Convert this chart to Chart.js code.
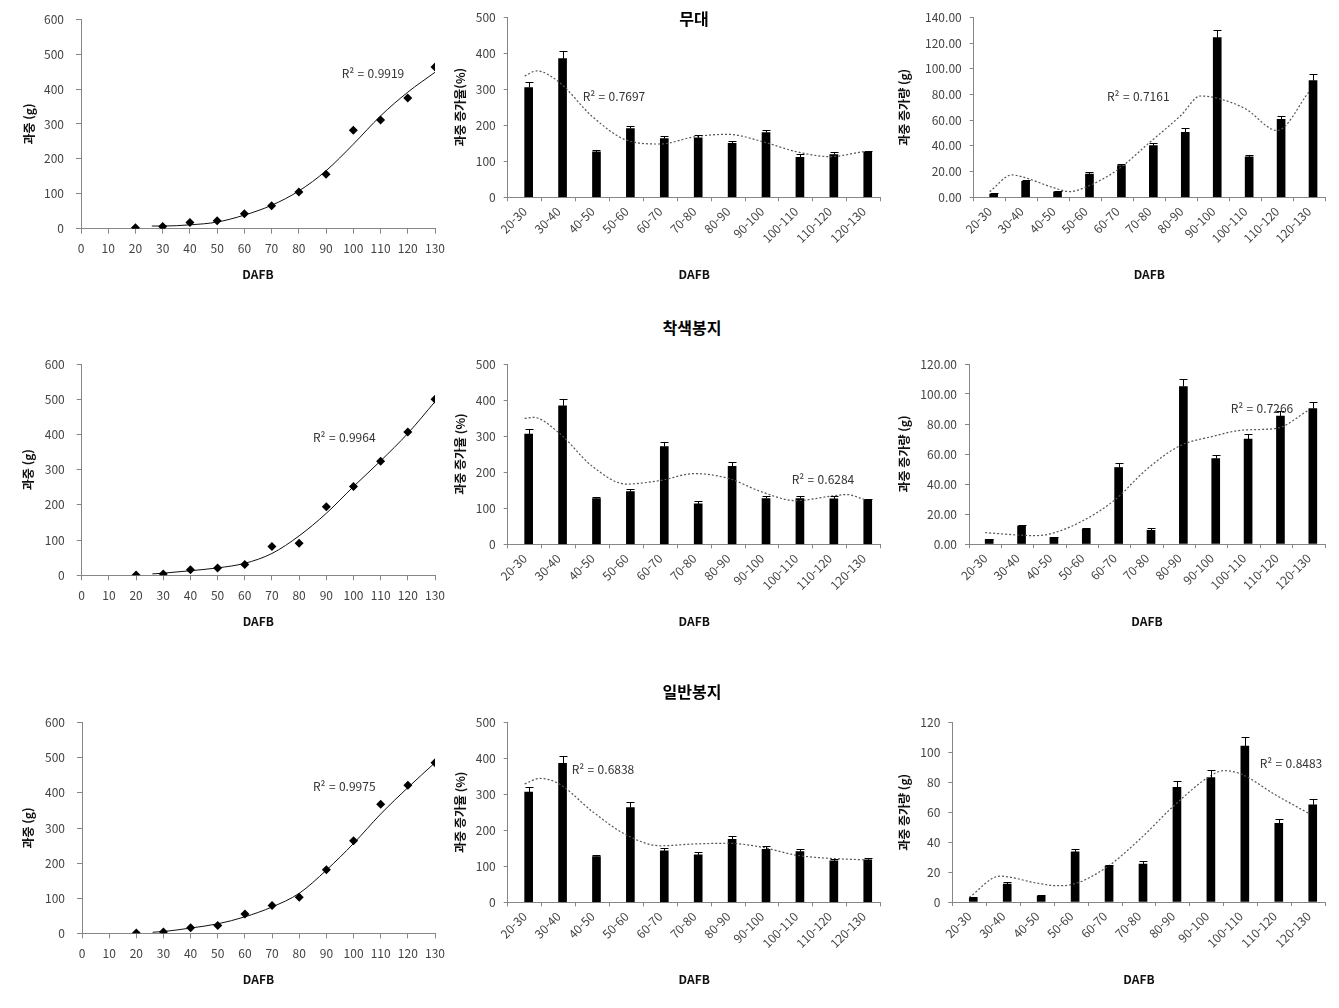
<!DOCTYPE html>
<html lang="ko">
<head>
<meta charset="utf-8">
<title>과중 변화</title>
<script src="https://cdn.jsdelivr.net/npm/chart.js@4.4.0/dist/chart.umd.min.js"></script>
<style>
  body { margin: 0; background: #fff; }
  #page { position: relative; width: 1339px; height: 1008px; font-family: "Noto Sans CJK KR", "Noto Sans", sans-serif; }
  #page canvas { position: absolute; }
  .ttl { position: absolute; font-weight: bold; font-size: 16px; color: #000; transform: translate(-50%, -50%); white-space: nowrap; }
  .r2 { position: absolute; font-size: 12px; color: #333; transform: translateY(-50%); white-space: nowrap; }
</style>
</head>
<body>
<div id="page"></div>
<script>
// ---- data ----
const days = [20, 30, 40, 50, 60, 70, 80, 90, 100, 110, 120, 130];
const periods = ['20-30', '30-40', '40-50', '50-60', '60-70', '70-80', '80-90', '90-100', '100-110', '110-120', '120-130'];

// fruit weight (g)
const weightMudae  = [3, 6, 18, 23, 43, 66, 105, 156, 282, 311, 374, 463];
const weightColor  = [1, 4, 16, 21, 31, 82, 91, 195, 252, 324, 407, 500];
const weightNormal = [1, 4, 16, 22, 55, 79, 103, 181, 264, 368, 422, 486];

// trend line of the weight plots
const fitDays   = [26, 30, 40, 50, 60, 70, 80, 90, 100, 110, 120, 130];
const fitMudae  = [7.6, 7.6, 11, 19, 39, 67, 108, 166, 242, 323, 391, 448];
const fitColor  = [4, 6, 13, 21, 34, 62, 112, 176, 252, 325, 403, 493];
const fitNormal = [3, 5, 15, 27, 47, 75, 114, 180, 256, 340, 415, 486];

// weight increase rate (%)
const rateMudae     = [305, 385, 126, 191, 163, 165, 150, 180, 111, 119, 125];
const rateMudaeErr  = [15, 20, 5, 7, 8, 9, 6, 8, 9, 8, 5];
const rateColor     = [306, 384, 127, 146, 271, 112, 216, 127, 127, 126, 123];
const rateColorErr  = [15, 19, 4, 7, 14, 7, 11, 7, 6, 7, 4];
const rateNormal    = [306, 386, 127, 263, 143, 132, 175, 147, 141, 115, 118];
const rateNormalErr = [15, 20, 4, 15, 8, 8, 9, 8, 7, 6, 4];

// weight increase (g)
const gainMudae     = [2.5, 12.5, 4.2, 18, 24.6, 40.2, 50.6, 124.2, 31.4, 60.7, 90.7];
const gainMudaeErr  = [0.5, 0.6, 0.4, 1.5, 1.3, 2, 3, 6, 1.8, 2.8, 5];
const gainColor     = [3.1, 12, 4.4, 10, 51, 9.1, 105, 57, 70, 85.3, 90.2];
const gainColorErr  = [0.4, 1, 0.4, 0.4, 3.3, 1.3, 5.3, 2.4, 3.1, 3.6, 4.7];
const gainNormal    = [2.7, 12, 4, 33.5, 24, 25.4, 76.7, 83.2, 104.4, 52.6, 65.1];
const gainNormalErr = [0.4, 1.2, 0.5, 2.2, 1, 1.8, 4.5, 4.9, 5.8, 2.9, 3.6];

// dotted trend lines (position in category units, value)
const trendRateMudaeAt  = [0, 0.35, 1, 2, 3, 4, 5, 6, 7, 8, 9, 10];
const trendRateMudae    = [337, 351, 321, 224, 159, 148, 168, 175, 155, 127, 113, 127];
const trendRateColorAt  = [0, 0.25, 1, 2, 3, 4, 5, 6, 7, 8, 9, 9.5, 10];
const trendRateColor    = [349, 352, 310, 216, 167, 177, 196, 183, 145, 121, 133, 138, 125];
const trendRateNormalAt = [0, 0.45, 1, 2, 3, 4, 5, 6, 7, 8, 9, 10];
const trendRateNormal   = [329, 344, 330, 252, 187, 157, 162, 164, 153, 131, 122, 118];
const trendGainMudaeAt  = [0, 0.7, 1, 2, 2.5, 3, 4, 5, 6, 6.6, 7, 8, 9, 10];
const trendGainMudae    = [4.4, 17.4, 16.1, 7.5, 4.4, 7.8, 21.3, 42.5, 64, 78.8, 77.8, 69, 52, 82];
const trendGainColorAt  = [0, 1, 1.5, 2, 3, 4, 5, 6, 7, 8, 9, 10];
const trendGainColor    = [7.6, 6, 5.6, 6.7, 15.3, 29.3, 50, 65.3, 71.6, 76, 77.1, 89.3];
const trendGainNormalAt = [0, 0.9, 2, 2.6, 3, 4, 5, 6, 7, 7.5, 8, 9, 10];
const trendGainNormal   = [3.1, 17.3, 12.6, 10.9, 11.6, 22.5, 41.5, 63.8, 82.8, 87.9, 85.7, 72, 59.3];

const r2Labels = ['R² = 0.9919', 'R² = 0.7697', 'R² = 0.7161',
                  'R² = 0.9964', 'R² = 0.6284', 'R² = 0.7266',
                  'R² = 0.9975', 'R² = 0.6838', 'R² = 0.8483'];
const groupTitles = ['무대', '착색봉지', '일반봉지'];

// ---- look ----
const FONT = '"Noto Sans CJK KR", "Noto Sans", sans-serif';
const AXIS = '#868686';
const TICK = '#444';
const tickFont = { family: FONT, size: 12 };
const titleFont = { family: FONT, size: 12, weight: 'bold' };
const LH = 14.4; // line height of the axis titles
const fix2 = v => v.toFixed(2);
const plain = v => v;

// canvas box [left, top, w, h], chart area [left, right, top, bottom]
const panels = [
  { kind: 'scatter', box: [8, 0, 445, 292], area: [81, 437, 17.3, 228.7], yTitleX: 29, xTitleY: 274,
    pts: weightMudae, fit: fitMudae, r2At: [341.7, 71.7] },
  { kind: 'bar', box: [445, 0, 445, 295], area: [507.7, 880.7, 17.3, 197.3], yTitleX: 460.7, xTitleY: 274,
    vals: rateMudae, errs: rateMudaeErr, tAt: trendRateMudaeAt, trend: trendRateMudae,
    yMax: 500, yStep: 100, fmt: plain, yTitle: '과중 증가율(%)', r2At: [582.7, 95] },
  { kind: 'bar', box: [890, 0, 449, 295], area: [973.7, 1325, 17.3, 197.3], yTitleX: 904, xTitleY: 274,
    vals: gainMudae, errs: gainMudaeErr, tAt: trendGainMudaeAt, trend: trendGainMudae,
    yMax: 140, yStep: 20, fmt: fix2, yTitle: '과중 증가량 (g)', r2At: [1107, 95] },

  { kind: 'scatter', box: [8, 340, 445, 300], area: [81.7, 439.3, 364, 575.3], yTitleX: 28.3, xTitleY: 621.7,
    pts: weightColor, fit: fitColor, r2At: [313, 435.7] },
  { kind: 'bar', box: [445, 340, 445, 300], area: [507.7, 880.7, 364, 544.3], yTitleX: 460.7, xTitleY: 621,
    vals: rateColor, errs: rateColorErr, tAt: trendRateColorAt, trend: trendRateColor,
    yMax: 500, yStep: 100, fmt: plain, yTitle: '과중 증가율 (%)', r2At: [791.7, 477.7] },
  { kind: 'bar', box: [890, 340, 449, 300], area: [969, 1325, 364, 544], yTitleX: 904, xTitleY: 621,
    vals: gainColor, errs: gainColorErr, tAt: trendGainColorAt, trend: trendGainColor,
    yMax: 120, yStep: 20, fmt: fix2, yTitle: '과중 증가량 (g)', r2At: [1230.7, 406.7] },

  { kind: 'scatter', box: [8, 700, 445, 300], area: [82, 439.3, 722.7, 933.3], yTitleX: 28.3, xTitleY: 979.3,
    pts: weightNormal, fit: fitNormal, r2At: [313, 785] },
  { kind: 'bar', box: [445, 700, 445, 300], area: [507.7, 880.7, 722.3, 902.3], yTitleX: 460.7, xTitleY: 979.3,
    vals: rateNormal, errs: rateNormalErr, tAt: trendRateNormalAt, trend: trendRateNormal,
    yMax: 500, yStep: 100, fmt: plain, yTitle: '과중 증가율 (%)', r2At: [571.7, 768.3] },
  { kind: 'bar', box: [890, 700, 449, 300], area: [952.3, 1325.7, 722.7, 902], yTitleX: 904, xTitleY: 979.3,
    vals: gainNormal, errs: gainNormalErr, tAt: trendGainNormalAt, trend: trendGainNormal,
    yMax: 120, yStep: 20, fmt: plain, yTitle: '과중 증가량 (g)', r2At: [1259.7, 762.3] }
];
const titleAt = [[694, 18], [692, 327], [692, 691]];

// error bars: vertical line plus a cap as wide as the bar
const errorBars = {
  id: 'errorBars',
  afterDatasetsDraw(chart) {
    const ctx = chart.ctx;
    chart.data.datasets.forEach((ds, i) => {
      if (!ds.errors) return;
      const meta = chart.getDatasetMeta(i);
      const y = chart.scales[meta.yAxisID];
      ctx.save();
      ctx.strokeStyle = '#000';
      ctx.lineWidth = 1;
      meta.data.forEach((bar, j) => {
        const top = Math.round(y.getPixelForValue(ds.data[j] + ds.errors[j])) + 0.5;
        const x = Math.round(bar.x) + 0.5;
        const half = bar.width / 2;
        ctx.beginPath();
        ctx.moveTo(x, bar.y);
        ctx.lineTo(x, top);
        ctx.moveTo(x - half, top);
        ctx.lineTo(x + half, top);
        ctx.stroke();
      });
      ctx.restore();
    });
  }
};

const page = document.getElementById('page');

function axisTitle(text) {
  return { display: true, text: text, font: titleFont, color: '#111', padding: 0 };
}

function makePanel(p, n) {
  const [bl, bt, bw, bh] = p.box;
  const [al, ar, at, ab] = p.area;
  const cv = document.createElement('canvas');
  cv.width = bw;
  cv.height = bh;
  cv.style.left = bl + 'px';
  cv.style.top = bt + 'px';
  page.appendChild(cv);

  const padL = p.yTitleX - LH / 2 - bl;
  const yW = al - (bl + padL);
  const xH = p.xTitleY + LH / 2 - ab;
  const layout = { padding: { left: padL, top: at - bt, right: bl + bw - ar, bottom: bt + bh - (p.xTitleY + LH / 2) } };
  const base = {
    responsive: false, animation: false, devicePixelRatio: 1, events: [],
    layout: layout,
    plugins: { legend: { display: false }, tooltip: { enabled: false } }
  };

  if (p.kind === 'scatter') {
    new Chart(cv, {
      type: 'scatter',
      data: {
        datasets: [
          { data: days.map((d, i) => ({ x: d, y: p.pts[i] })), pointStyle: 'rectRot', pointRadius: 4.5,
            backgroundColor: '#000', borderColor: '#000', borderWidth: 0, order: 0 },
          { type: 'line', data: fitDays.map((d, i) => ({ x: d, y: p.fit[i] })), borderColor: '#111',
            borderWidth: 1, pointRadius: 0, cubicInterpolationMode: 'monotone', fill: false, order: 1 }
        ]
      },
      options: Object.assign(base, {
        scales: {
          x: { type: 'linear', min: 0, max: 130,
               ticks: { stepSize: 10, font: tickFont, color: TICK, padding: 8 },
               grid: { drawOnChartArea: false, tickLength: 5, color: AXIS },
               border: { color: AXIS },
               title: axisTitle('DAFB'),
               afterFit: s => { s.height = xH; } },
          y: { min: 0, max: 600,
               ticks: { stepSize: 100, font: tickFont, color: TICK, padding: 12 },
               grid: { drawOnChartArea: false, tickLength: 5, color: AXIS },
               border: { color: AXIS },
               title: axisTitle('과중 (g)'),
               afterFit: s => { s.width = yW; } }
        }
      })
    });
  } else {
    new Chart(cv, {
      type: 'bar',
      data: {
        labels: periods,
        datasets: [
          { type: 'line', xAxisID: 'xt', data: p.tAt.map((t, i) => ({ x: t, y: p.trend[i] })),
            borderColor: '#555', borderWidth: 1.2, borderDash: [2, 2], pointRadius: 0,
            cubicInterpolationMode: 'monotone', fill: false, order: 0 },
          { data: p.vals, errors: p.errs, backgroundColor: '#000', barThickness: 8, order: 1 }
        ]
      },
      options: Object.assign(base, {
        scales: {
          x: { offset: true,
               ticks: { autoSkip: false, minRotation: 45, maxRotation: 45, padding: 3, font: tickFont, color: TICK },
               grid: { offset: true, drawOnChartArea: false, tickLength: 4, color: AXIS },
               border: { color: AXIS },
               title: axisTitle('DAFB'),
               afterFit: s => { s.height = xH; } },
          // hidden linear axis so the trend can sit between bar centres
          xt: { type: 'linear', display: false, offset: false, grid: { offset: false }, min: -0.5, max: 10.5 },
          y: { min: 0, max: p.yMax,
               ticks: { stepSize: p.yStep, callback: p.fmt, font: tickFont, color: TICK, padding: 8 },
               grid: { drawOnChartArea: false, tickLength: 4, color: AXIS },
               border: { color: AXIS },
               title: axisTitle(p.yTitle),
               afterFit: s => { s.width = yW; } }
        }
      }),
      plugins: [errorBars]
    });
  }

  const r2 = document.createElement('div');
  r2.className = 'r2';
  r2.textContent = r2Labels[n];
  r2.style.left = p.r2At[0] + 'px';
  r2.style.top = p.r2At[1] + 'px';
  page.appendChild(r2);
}

panels.forEach(makePanel);

groupTitles.forEach((t, i) => {
  const d = document.createElement('div');
  d.className = 'ttl';
  d.textContent = t;
  d.style.left = titleAt[i][0] + 'px';
  d.style.top = titleAt[i][1] + 'px';
  page.appendChild(d);
});
</script>
</body>
</html>
